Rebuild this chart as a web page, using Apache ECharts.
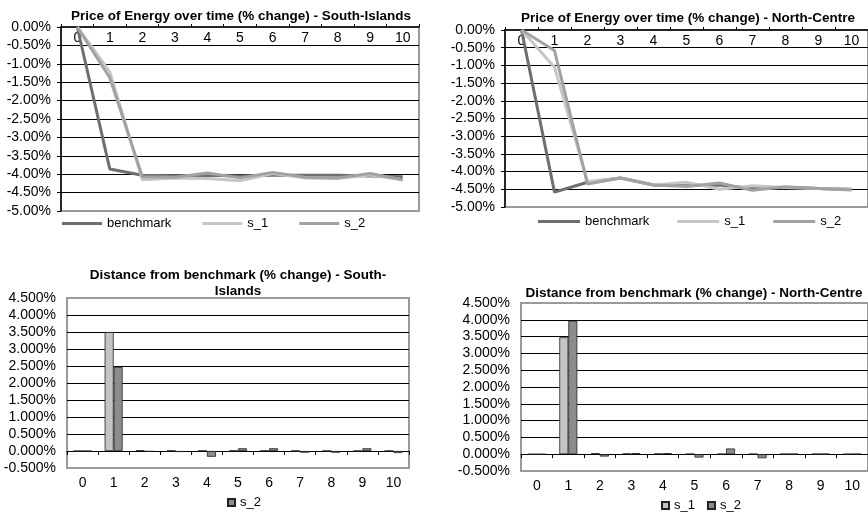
<!DOCTYPE html>
<html>
<head>
<meta charset="utf-8">
<script src="https://cdn.jsdelivr.net/npm/echarts@6/dist/echarts.min.js"></script>
<style>
html,body{margin:0;padding:0;background:#fff;}
#chart{width:868px;height:514px;}
</style>
</head>
<body>
<div id="chart"></div>
<script>
// ---- data ----
const categories = ['0','1','2','3','4','5','6','7','8','9','10'];

// Price of Energy over time (% change) - South-Islands
const siBenchmark = [0, -3.86, -4.03, -4.04, -4.03, -4.05, -4.03, -4.03, -4.03, -4.05, -4.07];
const siS1        = [0, -1.22, -4.15, -4.10, -4.12, -4.18, -3.98, -4.10, -4.12, -4.02, -4.15];
const siS2        = [0, -1.38, -4.07, -4.08, -3.97, -4.10, -3.95, -4.08, -4.10, -3.98, -4.15];

// Price of Energy over time (% change) - North-Centre
const ncBenchmark = [0, -4.58, -4.30, -4.18, -4.38, -4.40, -4.38, -4.48, -4.45, -4.48, -4.50];
const ncS1        = [0, -1.05, -4.28, -4.18, -4.38, -4.30, -4.50, -4.40, -4.45, -4.48, -4.50];
const ncS2        = [0, -0.58, -4.35, -4.18, -4.38, -4.42, -4.32, -4.53, -4.43, -4.48, -4.52];

// Distance from benchmark (% change) - South-Islands
const siDistS1 = [0, 3.50, 0.02, 0.01, 0.01, 0.01, 0.01, 0.005, 0.005, 0.005, 0.005];
const siDistS2 = [0, 2.47, -0.02, -0.03, -0.17, 0.08, 0.08, -0.05, -0.05, 0.08, -0.06];

// Distance from benchmark (% change) - North-Centre
const ncDistS1 = [0, 3.48, 0.03, 0.02, 0.02, 0.01, 0.01, 0.01, 0.01, 0.01, 0.005];
const ncDistS2 = [0, 3.97, -0.07, 0.03, 0.03, -0.10, 0.17, -0.12, 0.01, 0.01, 0.01];

const titles = [
  'Price of Energy over time (% change) - South-Islands',
  'Price of Energy over time (% change) - North-Centre',
  'Distance from benchmark (% change) - South-\nIslands',
  'Distance from benchmark (% change) - North-Centre'
];
const lineNames = ['benchmark', 's_1', 's_2'];

// ---- styles ----
const FONT = 'Liberation Sans, Arial, sans-serif';
const C_BENCH = '#6e6e6e', C_S1 = '#c6c6c6', C_S2 = '#a2a2a2';
const C_BAR1 = '#c4c4c4', C_BAR2 = '#8c8c8c';
const BORDER = '#9a9a9a';
const FS = 14;

const grids = [
  {left: 61, top: 27, width: 358, height: 184},
  {left: 505, top: 30, width: 368, height: 177},
  {left: 67, top: 298, width: 342, height: 170},
  {left: 521, top: 303, width: 349, height: 168}
].map(g => Object.assign({show: true, borderColor: BORDER, borderWidth: 2, backgroundColor: 'transparent', containLabel: false}, g));

function topYAxis(gi) {
  return {
    type: 'value', gridIndex: gi, min: -5, max: 0, interval: 0.5,
    axisLine: {show: true, lineStyle: {color: '#000', width: 1.5}},
    axisTick: {show: true, length: 4, lineStyle: {color: '#000'}},
    axisLabel: {color: '#000', fontFamily: FONT, fontSize: FS, margin: 10,
      formatter: v => v.toFixed(2) + '%'},
    splitLine: {show: true, showMinLine: false, showMaxLine: false, lineStyle: {color: '#000', width: 1}}
  };
}
function botYAxis(gi) {
  return {
    type: 'value', gridIndex: gi, min: -0.5, max: 4.5, interval: 0.5,
    axisLine: {show: false},
    axisTick: {show: false},
    axisLabel: {color: '#000', fontFamily: FONT, fontSize: FS, margin: 11,
      formatter: v => v.toFixed(3) + '%'},
    splitLine: {show: true, showMinLine: false, showMaxLine: false, lineStyle: {color: '#000', width: 1}}
  };
}
function topXAxis(gi) {
  return {
    type: 'category', gridIndex: gi, data: categories, position: 'top', boundaryGap: true,
    axisLine: {show: true, onZero: false, lineStyle: {color: '#000', width: 1.5}},
    axisTick: {show: true, length: 3, lineStyle: {color: '#000'}},
    axisLabel: {inside: true, color: '#000', fontFamily: FONT, fontSize: FS, margin: 4}
  };
}
function zeroXAxis(gi) {
  return {
    type: 'category', gridIndex: gi, data: categories, position: 'bottom', boundaryGap: true,
    axisLine: {show: true, onZero: true, lineStyle: {color: '#000', width: 1}},
    axisTick: {show: true, inside: false, length: 4, lineStyle: {color: '#000'}},
    axisLabel: {show: false}
  };
}
function labelXAxis(gi, h) {
  return {
    type: 'category', gridIndex: gi, data: categories, position: 'top', offset: -h, boundaryGap: true,
    axisLine: {show: false, onZero: false},
    axisTick: {show: false},
    axisLabel: {inside: true, color: '#000', fontFamily: FONT, fontSize: FS, margin: 8}
  };
}

function lineSeries(name, data, color, xi, yi) {
  return {
    type: 'line', name: name, data: data, xAxisIndex: xi, yAxisIndex: yi,
    symbol: 'none', showSymbol: false, silent: true,
    lineStyle: {color: color, width: 3}, itemStyle: {color: color}, z: 3
  };
}
function barSeries(name, data, color, xi, yi, w) {
  return {
    type: 'bar', name: name, data: data, xAxisIndex: xi, yAxisIndex: yi,
    barWidth: w, barGap: '0%', silent: true,
    itemStyle: {color: color, borderColor: '#222', borderWidth: 0.8}
  };
}

const titleStyle = {fontFamily: FONT, fontSize: 13.5, fontWeight: 'bold', color: '#000', lineHeight: 16};
const legendText = {fontFamily: FONT, fontSize: 13, color: '#000'};

const option = {
  animation: false,
  backgroundColor: '#fff',
  title: [
    {text: titles[0], left: 236, top: 3, textAlign: 'center', textStyle: titleStyle},
    {text: titles[1], left: 683, top: 5, textAlign: 'center', textStyle: titleStyle},
    {text: titles[2], left: 233, top: 262, textAlign: 'center', textStyle: titleStyle},
    {text: titles[3], left: 689, top: 280, textAlign: 'center', textStyle: titleStyle}
  ],
  legend: [
    {data: lineNames, left: 57, top: 212, width: 400, icon: 'rect', itemWidth: 40, itemHeight: 3, itemGap: 31,
     textStyle: legendText, selectedMode: false},
    {data: lineNames, left: 533, top: 210, width: 400, icon: 'rect', itemWidth: 42, itemHeight: 3, itemGap: 28,
     textStyle: legendText, selectedMode: false},
    {data: ['d_s_2'], left: 222, top: 491, icon: 'rect', itemWidth: 7, itemHeight: 7, itemGap: 12,
     formatter: n => n.slice(2), textStyle: legendText, selectedMode: false},
    {data: ['d_s_1', 'd_s_2'], left: 656, top: 494, icon: 'rect', itemWidth: 7, itemHeight: 7, itemGap: 12,
     formatter: n => n.slice(2), textStyle: legendText, selectedMode: false}
  ],
  grid: grids,
  xAxis: [
    topXAxis(0),
    topXAxis(1),
    zeroXAxis(2), labelXAxis(2, grids[2].height),
    zeroXAxis(3), labelXAxis(3, grids[3].height)
  ],
  yAxis: [topYAxis(0), topYAxis(1), botYAxis(2), botYAxis(3)],
  series: [
    lineSeries('benchmark', siBenchmark, C_BENCH, 0, 0),
    lineSeries('s_1', siS1, C_S1, 0, 0),
    lineSeries('s_2', siS2, C_S2, 0, 0),
    lineSeries('benchmark', ncBenchmark, C_BENCH, 1, 1),
    lineSeries('s_1', ncS1, C_S1, 1, 1),
    lineSeries('s_2', ncS2, C_S2, 1, 1),
    barSeries('d_s_1', siDistS1, C_BAR1, 2, 2, 9),
    barSeries('d_s_2', siDistS2, C_BAR2, 2, 2, 9),
    barSeries('d_s_1', ncDistS1, C_BAR1, 4, 3, 9),
    barSeries('d_s_2', ncDistS2, C_BAR2, 4, 3, 9)
  ]
};

const chart = echarts.init(document.getElementById('chart'), null, {renderer: 'canvas'});
chart.setOption(option);
</script>
</body>
</html>
